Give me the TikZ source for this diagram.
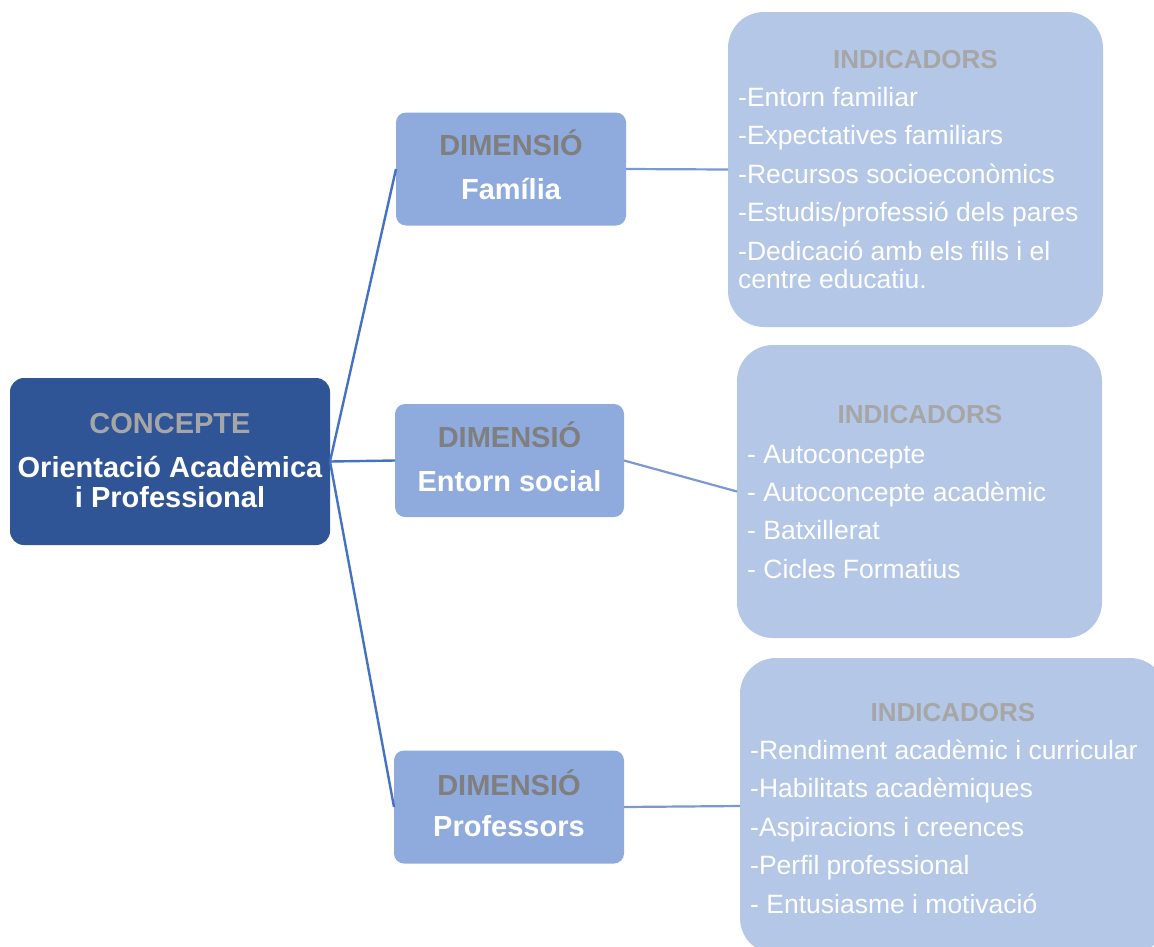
\documentclass[tikz,border=0pt]{standalone}
\usepackage{fontspec}
\setmainfont{Liberation Sans}
\definecolor{conceptfill}{HTML}{2F5597}
\definecolor{dimfill}{HTML}{8FAADC}
\definecolor{indfill}{HTML}{B4C7E7}
\definecolor{linkdark}{HTML}{4472C4}
\definecolor{linklight}{HTML}{7A98D4}
\definecolor{graydim}{HTML}{7F7F7F}
\definecolor{grayhead}{HTML}{A6A6A6}
\tikzset{
  boxbase/.style={inner sep=0pt, outer sep=0pt},
  conceptbox/.style={boxbase, fill=conceptfill, rounded corners=14pt},
  dimbox/.style={boxbase, fill=dimfill, rounded corners=10pt, minimum width=230pt, minimum height=113pt},
  indbox/.style={boxbase, fill=indfill, rounded corners=36pt},
  boldtxt/.style={inner sep=0pt, anchor=base, font=\bfseries\fontsize{29}{33}\selectfont},
  headtxt/.style={inner sep=0pt, anchor=base, text=grayhead, font=\bfseries\fontsize{26}{30}\selectfont},
  itemtxt/.style={inner sep=0pt, anchor=base west, text=white, font=\fontsize{26.5}{30}\selectfont},
  darklink/.style={draw=linkdark, line width=2.4pt},
  lightlink/.style={draw=linklight, line width=2.2pt}
}
\begin{document}
\begin{tikzpicture}[x=1pt,y=-1pt]
\useasboundingbox (0,0) rectangle (1154,946);
\clip (0,0) rectangle (1154,946);
\fill[white] (0,0) rectangle (1154,946);

% boxes
\node[conceptbox, minimum width=320pt, minimum height=167pt] (c) at (170,461.5) {};
\node[dimbox] (d1) at (511,169) {};
\node[dimbox, minimum width=229pt] (d2) at (509.5,460.5) {};
\node[dimbox, minimum width=230pt] (d3) at (509,807) {};
\node[indbox, minimum width=375pt, minimum height=315pt] (i1) at (915.5,169.5) {};
\node[indbox, minimum width=365pt, minimum height=293pt] (i2) at (919.5,491.5) {};
\node[indbox, minimum width=426pt, minimum height=296pt] (i3) at (953,806) {};

% connectors
\draw[darklink] (c.east) -- (d1.west);
\draw[darklink] (c.east) -- (d2.west);
\draw[darklink] (c.east) -- (d3.west);
\draw[lightlink] (d1.east) -- (i1.west);
\draw[lightlink] (d2.east) -- (i2.west);
\draw[lightlink] (d3.east) -- (i3.west);

% concept text
\node[boldtxt, text=grayhead] (ct1) at (170,433) {CONCEPTE};
\node[boldtxt, text=white] (ct2) at (170,477) {Orientació Acadèmica};
\node[boldtxt, text=white] (ct3) at (170,507) {i Professional};

% dimension texts
\node[boldtxt, text=graydim] (d1a) at (511,155) {DIMENSIÓ};
\node[boldtxt, text=white] (d1b) at (511,199) {Família};
\node[boldtxt, text=graydim] (d2a) at (509.5,447) {DIMENSIÓ};
\node[boldtxt, text=white] (d2b) at (509.5,491) {Entorn social};
\node[boldtxt, text=graydim] (d3a) at (509,795) {DIMENSIÓ};
\node[boldtxt, text=white] (d3b) at (509,836) {Professors};

% indicators 1
\node[headtxt] (h1) at (915.5,68) {INDICADORS};
\node[itemtxt] (a1) at (738,106) {-Entorn familiar};
\node[itemtxt] (a2) at (738,144.5) {-Expectatives familiars};
\node[itemtxt] (a3) at (738,183) {-Recursos socioeconòmics};
\node[itemtxt] (a4) at (738,221.5) {-Estudis/professió dels pares};
\node[itemtxt] (a5) at (738,260) {-Dedicació amb els fills i el};
\node[itemtxt] (a6) at (738,288) {centre educatiu.};

% indicators 2
\node[headtxt] (h2) at (920,423) {INDICADORS};
\node[itemtxt] (b1) at (747,463) {- Autoconcepte};
\node[itemtxt] (b2) at (747,501) {- Autoconcepte acadèmic};
\node[itemtxt] (b3) at (747,539.5) {- Batxillerat};
\node[itemtxt] (b4) at (747,578) {- Cicles Formatius};

% indicators 3
\node[headtxt] (h3) at (953,721) {INDICADORS};
\node[itemtxt] (e1) at (750,759) {-Rendiment acadèmic i curricular};
\node[itemtxt] (e2) at (750,797.5) {-Habilitats acadèmiques};
\node[itemtxt] (e3) at (750,836) {-Aspiracions i creences};
\node[itemtxt] (e4) at (750,874.5) {-Perfil professional};
\node[itemtxt] (e5) at (750,913) {- Entusiasme i motivació};
\end{tikzpicture}
\end{document}
